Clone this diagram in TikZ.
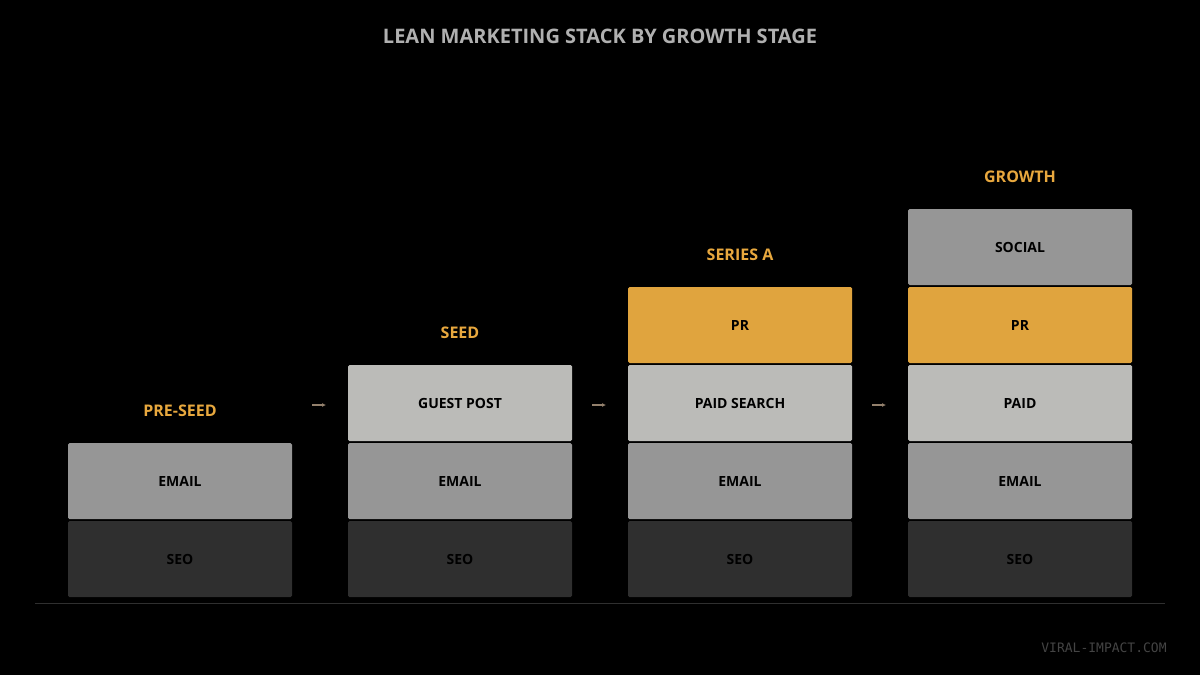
\documentclass[tikz,border=0pt]{standalone}
\usepackage{fontspec}
\setmainfont{Open Sans}
\setmonofont{DejaVu Sans Mono}
\usetikzlibrary{positioning,arrows.meta}
\definecolor{seoc}{HTML}{2F2F2F}
\definecolor{emailc}{HTML}{969696}
\definecolor{lightc}{HTML}{BBBBB8}
\definecolor{prc}{HTML}{E0A43E}
\definecolor{stagec}{HTML}{E8A83E}
\definecolor{titlec}{HTML}{B0B0B0}
\tikzset{
  layer/.style={rounded corners=1.5pt, minimum width=224pt, minimum height=76pt,
    inner sep=0pt, font=\fontsize{14}{16}\selectfont\bfseries, text=black},
  stage/.style={font=\fontsize{16}{18}\selectfont\bfseries, text=stagec},
  flow/.style={-{Latex[length=4pt,width=4pt]}, draw=gray!70!brown, line width=1.5pt}
}
\begin{document}
\begin{tikzpicture}[x=1pt,y=-1pt]
\fill[black] (0,0) rectangle (1200,675);
\useasboundingbox (0,0) rectangle (1200,675);

% titel
\node[font=\fontsize{20}{24}\selectfont\bfseries, text=titlec] (title) at (600,36) {LEAN MARKETING STACK BY GROWTH STAGE};

% stapels
\foreach \x/\n in {180/a,460/b,740/c,1020/d}{
  \node[layer, fill=seoc] (seo\n) at (\x,559) {SEO};
  \node[layer, fill=emailc] (email\n) at (\x,481) {EMAIL};
}
\node[layer, fill=lightc] (guest) at (460,403) {GUEST POST};
\node[layer, fill=lightc] (paidsearch) at (740,403) {PAID SEARCH};
\node[layer, fill=prc] (prc) at (740,325) {PR};
\node[layer, fill=lightc] (paid) at (1020,403) {PAID};
\node[layer, fill=prc] (prd) at (1020,325) {PR};
\node[layer, fill=emailc] (social) at (1020,247) {SOCIAL};

% fasen
\node[stage] (preseed) at (180,411) {PRE-SEED};
\node[stage] (seed) at (460,333) {SEED};
\node[stage] (seriesa) at (740,255) {SERIES A};
\node[stage] (growth) at (1020,177) {GROWTH};

% pijlen
\foreach \x in {312,592,872}{
  \coordinate (s\x) at (\x,405);
  \coordinate (e\x) at (\x+14,405);
  \draw[flow] (s\x) -- (e\x);
}

% basislijn
\coordinate (bl) at (35,603);
\coordinate (br) at (1165,603);
\draw[seoc, line width=1pt] (bl) -- (br);

\node[font=\ttfamily\fontsize{13}{15}\selectfont, text=seoc!90!white] (mark) at (1104,648) {VIRAL-IMPACT.COM};
\end{tikzpicture}
\end{document}
